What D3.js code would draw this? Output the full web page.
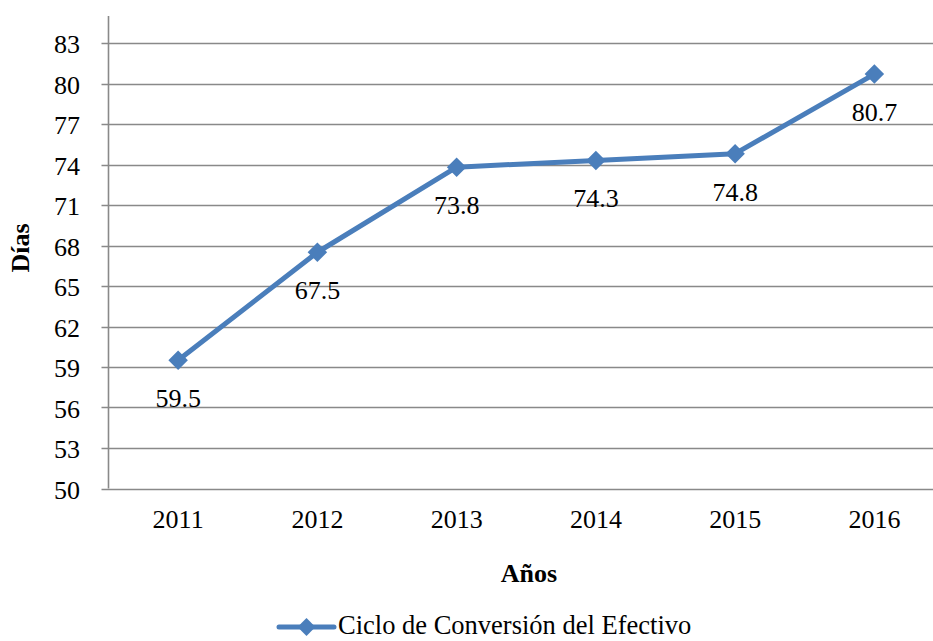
<!DOCTYPE html>
<html>
<head>
<meta charset="utf-8">
<script src="https://cdn.jsdelivr.net/npm/d3@7"></script>
<style>
  html, body { margin: 0; padding: 0; background: #fff; }
  svg { display: block; }
</style>
</head>
<body>
<svg id="chart" width="933" height="641" font-family="'Liberation Serif', 'Times New Roman', Times, serif"></svg>
<script>
// Cash conversion cycle (days) by year
const years = ["2011", "2012", "2013", "2014", "2015", "2016"];
const dias = [59.5, 67.5, 73.8, 74.3, 74.8, 80.7];
const yTicks = [50, 53, 56, 59, 62, 65, 68, 71, 74, 77, 80, 83];
const seriesName = "Ciclo de Conversión del Efectivo";

const svg = d3.select("#chart");
const plotLeft = 108.5, plotTop = 16, plotBottom = 488.5, plotRight = 944;
const blue = "#4a7ebb";
const grid = "#898989";
const fs = 26;

const x = d3.scaleBand().domain(years).range([plotLeft, plotRight]);
const y = d3.scaleLinear().domain([50, 85]).range([plotBottom, plotTop]);

// horizontal gridlines
svg.append("g").selectAll("line").data(yTicks).join("line")
  .attr("x1", plotLeft - 7).attr("x2", 933)
  .attr("y1", d => Math.round(y(d)) + 0.5).attr("y2", d => Math.round(y(d)) + 0.5)
  .attr("stroke", grid).attr("stroke-width", 1.6);

// vertical axis line
svg.append("line")
  .attr("x1", plotLeft).attr("x2", plotLeft).attr("y1", plotTop).attr("y2", plotBottom)
  .attr("stroke", grid).attr("stroke-width", 1.6);

// y tick labels
svg.append("g").selectAll("text").data(yTicks).join("text")
  .attr("x", 80).attr("y", d => y(d) + 10)
  .attr("text-anchor", "end").attr("font-size", fs).attr("fill", "#000")
  .text(d => d);

// x tick labels
svg.append("g").selectAll("text").data(years).join("text")
  .attr("x", d => x(d) + x.bandwidth() / 2).attr("y", 528)
  .attr("text-anchor", "middle").attr("font-size", fs).attr("fill", "#000")
  .text(d => d);

// axis titles
svg.append("text").attr("transform", "translate(29,248) rotate(-90)")
  .attr("text-anchor", "middle").attr("font-size", fs).attr("font-weight", "bold")
  .text("Días");
svg.append("text").attr("x", 529).attr("y", 582)
  .attr("text-anchor", "middle").attr("font-size", fs).attr("font-weight", "bold")
  .text("Años");

const pts = years.map((yr, i) => ({ yr, v: dias[i] }));
const cx = d => x(d.yr) + x.bandwidth() / 2;

// series line
svg.append("path").datum(pts)
  .attr("d", d3.line().x(cx).y(d => y(d.v)))
  .attr("fill", "none").attr("stroke", blue).attr("stroke-width", 5)
  .attr("stroke-linejoin", "round");

// diamond markers
const diamond = d3.symbol().type(d3.symbolSquare).size(190);
svg.append("g").selectAll("path").data(pts).join("path")
  .attr("d", diamond)
  .attr("transform", d => `translate(${cx(d)},${y(d.v)}) rotate(45)`)
  .attr("fill", blue);

// data labels, placed below each point
svg.append("g").selectAll("text").data(pts).join("text")
  .attr("x", cx).attr("y", d => y(d.v) + 47)
  .attr("text-anchor", "middle").attr("font-size", fs).attr("fill", "#000")
  .text(d => d.v.toFixed(1));

// legend
const lg = svg.append("g");
lg.append("line").attr("x1", 279).attr("x2", 334).attr("y1", 627).attr("y2", 627)
  .attr("stroke", blue).attr("stroke-width", 5).attr("stroke-linecap", "round");
lg.append("path").attr("d", d3.symbol().type(d3.symbolSquare).size(160))
  .attr("transform", "translate(306.5,627) rotate(45)")
  .attr("fill", blue);
lg.append("text").attr("x", 338).attr("y", 634)
  .attr("font-size", 26.5).text(seriesName);
</script>
</body>
</html>
